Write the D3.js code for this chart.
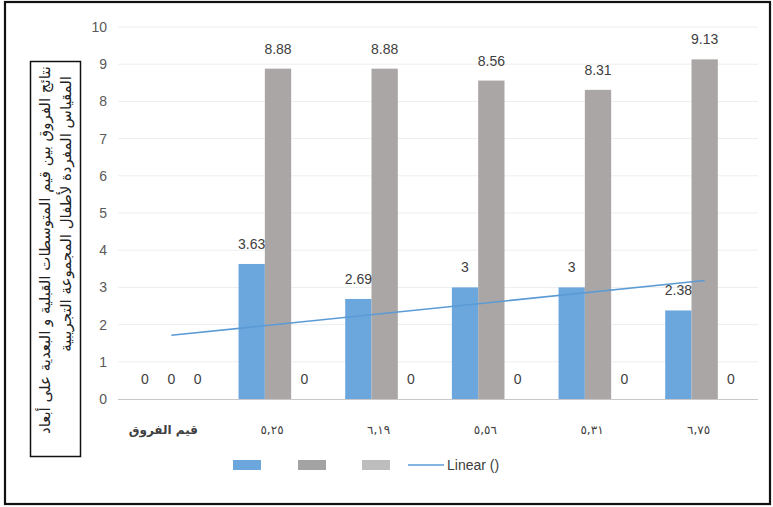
<!DOCTYPE html>
<html>
<head>
<meta charset="utf-8">
<script src="https://cdn.jsdelivr.net/npm/d3@7"></script>
<style>
  html, body { margin: 0; padding: 0; background: #fff; }
  svg { display: block; }
</style>
</head>
<body>
<svg id="chart" width="773" height="507"></svg>
<script>
// Category labels along the x axis
const categories = ["قيم الفروق", "٥,٢٥", "٦,١٩", "٥,٥٦", "٥,٣١", "٦,٧٥"];
// Three bar series per category
const seriesA = [0, 3.63, 2.69, 3, 3, 2.38];
const seriesB = [0, 8.88, 8.88, 8.56, 8.31, 9.13];
const seriesC = [0, 0, 0, 0, 0, 0];
const yTicks = [0, 1, 2, 3, 4, 5, 6, 7, 8, 9, 10];
const yTitleLines = [
  "نتائج الفروق بين قيم المتوسطات القبلية و البعدية على أبعاد",
  "المقياس المفردة لأطفال المجموعة التجريبية"
];
const trendLabel = "Linear ()";

const colors = ["#6BA6DD", "#A9A6A5", "#BDBDBD"];
const legendColors = ["#6BA6DD", "#A3A3A3", "#BDBDBD"];

const svg = d3.select("#chart");
const plot = { left: 118, right: 758, top: 27, bottom: 399 };

// frame
svg.append("rect")
  .attr("x", 5).attr("y", 2).attr("width", 765).attr("height", 502)
  .attr("fill", "none").attr("stroke", "#111").attr("stroke-width", 2.2);

const x = d3.scaleBand().domain(categories)
  .range([plot.left, plot.right]).paddingInner(0.26).paddingOuter(0.13);
const x1 = d3.scaleBand().domain([0, 1, 2]).range([0, x.bandwidth()]);
const y = d3.scaleLinear().domain([0, 10]).range([plot.bottom, plot.top]);

// gridlines
svg.append("g").selectAll("line").data(yTicks.filter(d => d > 0)).join("line")
  .attr("x1", plot.left).attr("x2", plot.right)
  .attr("y1", d => y(d)).attr("y2", d => y(d))
  .attr("stroke", "#eeeeee").attr("stroke-width", 1);

// y axis labels
const yAxis = d3.axisLeft(y).tickValues(yTicks).tickSize(0).tickPadding(0);
const yg = svg.append("g").attr("transform", `translate(${plot.left - 11},0)`).call(yAxis);
yg.select(".domain").remove();
yg.selectAll("text").attr("font-family", "Liberation Sans, Arial, sans-serif")
  .attr("font-size", 14).attr("fill", "#595959");

// bars
const series = [seriesA, seriesB, seriesC];
const barsG = svg.append("g");
series.forEach((vals, si) => {
  barsG.selectAll(null).data(vals).join("rect")
    .attr("x", (d, i) => x(categories[i]) + x1(si))
    .attr("y", d => y(d))
    .attr("width", x1.bandwidth())
    .attr("height", d => y(0) - y(d))
    .attr("fill", colors[si]);
});

// x axis line and labels
svg.append("line")
  .attr("x1", plot.left).attr("x2", plot.right)
  .attr("y1", y(0) + 0.5).attr("y2", y(0) + 0.5)
  .attr("stroke", "#c8c8c8").attr("stroke-width", 1.2);
const xAxis = d3.axisBottom(x).tickSize(0).tickPadding(0);
const xg = svg.append("g").attr("transform", `translate(0,${plot.bottom + 26})`).call(xAxis);
xg.select(".domain").remove();
xg.selectAll("text")
  .attr("font-family", "DejaVu Sans, sans-serif")
  .attr("font-size", 12).attr("fill", "#404040")
  .attr("dx", (d, i) => i === 0 ? -8 : -6)
  .attr("font-weight", (d, i) => i === 0 ? "bold" : "normal");

// linear trend on the first series
const xs = seriesA.map((d, i) => i + 1);
const mx = d3.mean(xs), my = d3.mean(seriesA);
const slope = d3.sum(xs, (v, i) => (v - mx) * (seriesA[i] - my)) / d3.sum(xs, v => (v - mx) ** 2);
const icpt = my - slope * mx;
const trend = [1, categories.length].map(v => ({ cx: x(categories[v - 1]) + x.bandwidth() / 2, v: icpt + slope * v }));

// data labels
const labelsG = svg.append("g")
  .attr("font-family", "Liberation Sans, Arial, sans-serif")
  .attr("font-size", 14).attr("fill", "#404040").attr("text-anchor", "middle");
series.forEach((vals, si) => {
  labelsG.selectAll(null).data(vals).join("text")
    .attr("x", (d, i) => x(categories[i]) + x1(si) + x1.bandwidth() / 2)
    .attr("y", d => y(d) - 15)
    .text(d => d);
});

svg.append("line")
  .attr("x1", trend[0].cx).attr("y1", y(trend[0].v))
  .attr("x2", trend[1].cx).attr("y2", y(trend[1].v))
  .attr("stroke", "#5B9BD5").attr("stroke-width", 1.6);

// legend
const lg = svg.append("g").attr("transform", "translate(0,465)");
const swX = [233, 298, 362];
legendColors.forEach((c, i) => {
  lg.append("rect").attr("x", swX[i]).attr("y", -5).attr("width", 28).attr("height", 10).attr("fill", c);
});
lg.append("line").attr("x1", 408).attr("x2", 444).attr("y1", 0).attr("y2", 0)
  .attr("stroke", "#5B9BD5").attr("stroke-width", 1.6);
lg.append("text").attr("x", 447).attr("y", 5)
  .attr("font-family", "Liberation Sans, Arial, sans-serif")
  .attr("font-size", 14).attr("fill", "#404040").text(trendLabel);

// y axis title in a box
svg.append("rect").attr("x", 30.5).attr("y", 61.5).attr("width", 50).attr("height", 395)
  .attr("fill", "#fff").attr("stroke", "#111").attr("stroke-width", 1.5);
const tg = svg.append("g");
yTitleLines.forEach((t, i) => {
  tg.append("text")
    .attr("transform", `translate(${50 + i * 21},${i === 0 ? 66 : 76}) rotate(-90)`)
    .attr("text-anchor", "end")
    .attr("font-family", "DejaVu Sans, sans-serif")
    .attr("font-size", 15).attr("fill", "#222")
    .text(t);
});
</script>
</body>
</html>
